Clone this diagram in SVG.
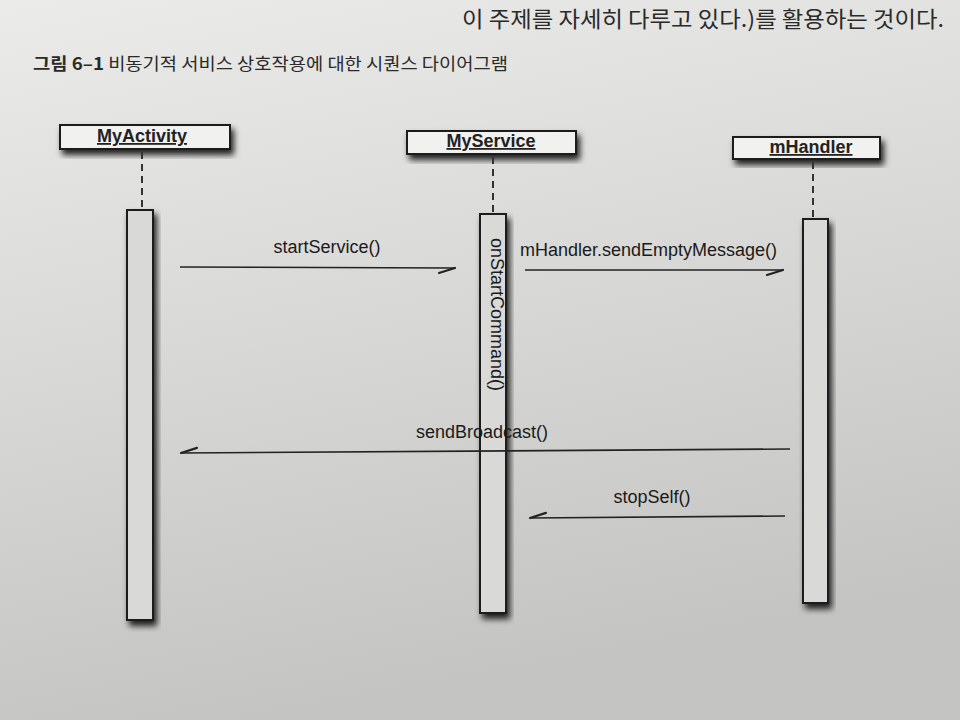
<svg xmlns="http://www.w3.org/2000/svg" width="960" height="720" viewBox="0 0 960 720">
  <defs>
    <linearGradient id="bg" x1="0" y1="0" x2="0.25" y2="1">
      <stop offset="0" stop-color="#ebebe9"/>
      <stop offset="0.45" stop-color="#dadad8"/>
      <stop offset="1" stop-color="#c4c4c2"/>
    </linearGradient>
    <filter id="shadow" x="-20%" y="-20%" width="150%" height="160%">
      <feDropShadow dx="3" dy="5" stdDeviation="3" flood-color="#000" flood-opacity="0.85"/>
    </filter>
    <marker id="barb" viewBox="-18 -8 20 16" refX="0" refY="0" markerWidth="20" markerHeight="16" markerUnits="userSpaceOnUse" orient="auto">
      <path d="M0,0 L-16,5" fill="none" stroke="#222" stroke-width="2.2" stroke-linecap="round"/>
    </marker>
    <style>
      .page { font-family: "Noto Sans CJK KR", "Noto Sans", sans-serif; fill: #2a2a2a; }
      .head { fill: #f1f1ef; stroke: #1e1e1e; stroke-width: 2; filter: url(#shadow); }
      .headtxt { font-family: "Liberation Sans", Arial, sans-serif; font-size: 18px; font-weight: bold; fill: #222; text-anchor: middle; text-decoration: underline; }
      .life { stroke: #333; stroke-width: 2; stroke-dasharray: 7 5; fill: none; }
      .bar { fill: #d9d9d7; stroke: #1e1e1e; stroke-width: 2; filter: url(#shadow); }
      .msg { stroke: #222; stroke-width: 1.6; fill: none; marker-end: url(#barb); }
      .lbl { font-family: "Liberation Sans", Arial, sans-serif; font-size: 18px; fill: #1a1a1a; }
    </style>
  </defs>

  <rect x="0" y="0" width="960" height="720" fill="url(#bg)"/>

  <text class="page" x="462" y="27" font-size="22" textLength="482" lengthAdjust="spacingAndGlyphs">이 주제를 자세히 다루고 있다.)를 활용하는 것이다.</text>
  <text class="page" x="33" y="70" font-size="17" textLength="475" lengthAdjust="spacingAndGlyphs"><tspan font-weight="bold">그림 6–1</tspan> 비동기적 서비스 상호작용에 대한 시퀀스 다이어그램</text>

  <g id="MyActivity">
    <rect class="head" x="60" y="125" width="170" height="24"/>
    <text class="headtxt" x="142" y="142">MyActivity</text>
    <line class="life" x1="142" y1="152" x2="142" y2="208"/>
    <rect class="bar" x="127" y="210" width="26" height="410"/>
  </g>

  <g id="MyService">
    <rect class="head" x="407" y="131" width="169" height="23"/>
    <text class="headtxt" x="491" y="147">MyService</text>
    <line class="life" x1="493" y1="157" x2="493" y2="212"/>
    <rect class="bar" x="480" y="214" width="26" height="399"/>
    <text class="lbl" font-size="19.5" transform="translate(491,238) rotate(90)">onStartCommand()</text>
  </g>

  <g id="mHandler">
    <rect class="head" x="733" y="137" width="147" height="22"/>
    <text class="headtxt" x="811" y="153">mHandler</text>
    <line class="life" x1="813" y1="162" x2="813" y2="217"/>
    <rect class="bar" x="803" y="219" width="25" height="384"/>
  </g>

  <g id="connectors">
    <line class="msg" x1="180" y1="267" x2="455" y2="268"/>
    <text class="lbl" x="327" y="253" text-anchor="middle">startService()</text>

    <line class="msg" x1="525" y1="270" x2="783" y2="270"/>
    <text class="lbl" x="520" y="256">mHandler.sendEmptyMessage()</text>

    <line class="msg" x1="790" y1="449" x2="181" y2="453"/>
    <text class="lbl" x="482" y="438" text-anchor="middle">sendBroadcast()</text>

    <line class="msg" x1="785" y1="516" x2="530" y2="518"/>
    <text class="lbl" x="652" y="503" text-anchor="middle">stopSelf()</text>
  </g>
</svg>
